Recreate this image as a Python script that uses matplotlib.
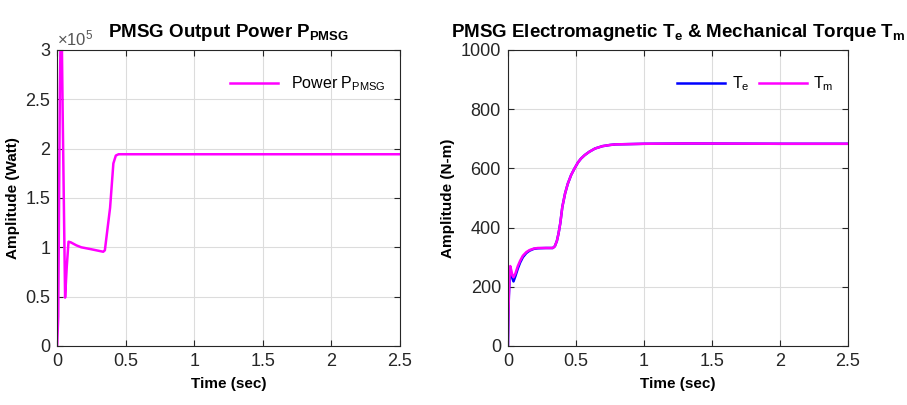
import numpy as np
import matplotlib
matplotlib.use('Agg')
from matplotlib import pyplot as plt

plt.rcParams['font.family'] = ['Liberation Sans', 'DejaVu Sans']
plt.rcParams['mathtext.fontset'] = 'custom'
plt.rcParams['mathtext.rm'] = 'Liberation Sans'
plt.rcParams['mathtext.it'] = 'Liberation Sans'
plt.rcParams['mathtext.bf'] = 'Liberation Sans:bold'

############# data ############################################################
# PMSG output power (W)
t_p = [0.0, 0.008, 0.02, 0.03, 0.04, 0.058, 0.07, 0.083, 0.1, 0.14, 0.176,
       0.25, 0.336, 0.348, 0.386, 0.41, 0.428, 0.448, 1.0, 1.5, 2.0, 2.5]
p_pmsg = [0.0, 0.3e5, 2.6e5, 3.6e5, 2.4e5, 0.49e5, 0.8e5, 1.057e5, 1.05e5,
          1.02e5, 1.0e5, 0.98e5, 0.955e5, 0.97e5, 1.40e5, 1.85e5, 1.93e5,
          1.943e5, 1.943e5, 1.943e5, 1.943e5, 1.943e5]

# torques (N-m)
t_q = [0.0, 0.003, 0.007, 0.012, 0.017, 0.025, 0.033, 0.041, 0.055, 0.073,
       0.09, 0.11, 0.135, 0.159, 0.19, 0.22, 0.28, 0.33, 0.345, 0.36,
       0.372, 0.385, 0.40, 0.42, 0.44, 0.465, 0.49, 0.515, 0.537, 0.565,
       0.598, 0.64, 0.695, 0.75, 0.79, 0.9, 1.0, 1.33, 2.0, 2.5]
t_e = [0.0, 90, 170, 225, 255, 245, 228, 218, 236, 262,
       282, 300, 314, 322, 328, 330, 331, 331, 337, 355,
       380, 415, 470, 515, 548, 578, 600, 620, 633, 645,
       656, 667, 675, 679, 681, 682, 683, 684, 683, 683]
t_m = [0.0, 90, 170, 235, 270, 255, 238, 232, 245, 270,
       288, 305, 317, 324, 329, 331, 331, 331, 337, 355,
       380, 415, 470, 515, 548, 578, 600, 620, 633, 645,
       656, 667, 675, 679, 681, 682, 683, 684, 683, 683]

magenta = '#ff00ff'
blue = '#0000ff'
tick_col = '#262626'


def style(ax):
    ax.grid(True, color='#dcdcdc', linewidth=0.8)
    ax.set_axisbelow(True)
    ax.tick_params(direction='in', top=True, right=True, labelsize=13,
                   colors=tick_col, length=4, pad=5)
    for s in ax.spines.values():
        s.set_color(tick_col)
        s.set_linewidth(0.8)
    ax.set_xlim(0, 2.5)
    ax.set_xticks([0, 0.5, 1, 1.5, 2, 2.5])
    ax.set_xticklabels(['0', '0.5', '1', '1.5', '2', '2.5'])
    ax.set_xlabel('Time (sec)', fontsize=11, fontweight='bold', labelpad=5)


fig = plt.figure(figsize=(9.07, 4.05), dpi=100)

#### left: output power #######################################################
ax1 = fig.add_axes([0.063, 0.1457, 0.378, 0.731])
ax1.plot(t_p, p_pmsg, color=magenta, linewidth=1.8, label=r'Power P$_{\mathrm{PMSG}}$')
style(ax1)
ax1.set_ylim(0, 3e5)
ax1.set_yticks([0, 0.5e5, 1e5, 1.5e5, 2e5, 2.5e5, 3e5])
ax1.set_yticklabels(['0', '0.5', '1', '1.5', '2', '2.5', '3'])
ax1.text(0.0, 1.005, r'$\times10^5$', transform=ax1.transAxes, fontsize=12,
         color='#555555', va='bottom', ha='left')
ax1.set_ylabel('Amplitude (Watt)', fontsize=11, fontweight='bold', labelpad=4)
ax1.set_title(r'PMSG Output Power P$_{\mathbf{PMSG}}$', fontsize=13.5,
              fontweight='bold', pad=9)
ax1.legend(loc='upper right', frameon=False, fontsize=11.5, handlelength=3,
           bbox_to_anchor=(1.0, 0.965))

#### right: torques ###########################################################
ax2 = fig.add_axes([0.560, 0.1457, 0.375, 0.731])
ax2.plot(t_q, t_e, color=blue, linewidth=1.8, label=r'T$_{\mathrm{e}}$')
ax2.plot(t_q, t_m, color=magenta, linewidth=1.8, label=r'T$_{\mathrm{m}}$')
style(ax2)
ax2.set_ylim(0, 1000)
ax2.set_yticks([0, 200, 400, 600, 800, 1000])
ax2.set_ylabel('Amplitude (N-m)', fontsize=11, fontweight='bold', labelpad=4)
ax2.set_title(r'PMSG Electromagnetic T$_{\mathbf{e}}$ & Mechanical Torque T$_{\mathbf{m}}$',
              fontsize=13.5, fontweight='bold', pad=9)
ax2.legend(loc='upper right', frameon=False, fontsize=11.5, ncol=2,
           handlelength=3, handletextpad=0.4, columnspacing=0.6,
           bbox_to_anchor=(1.0, 0.965))

fig.savefig('out.png', dpi=100)
